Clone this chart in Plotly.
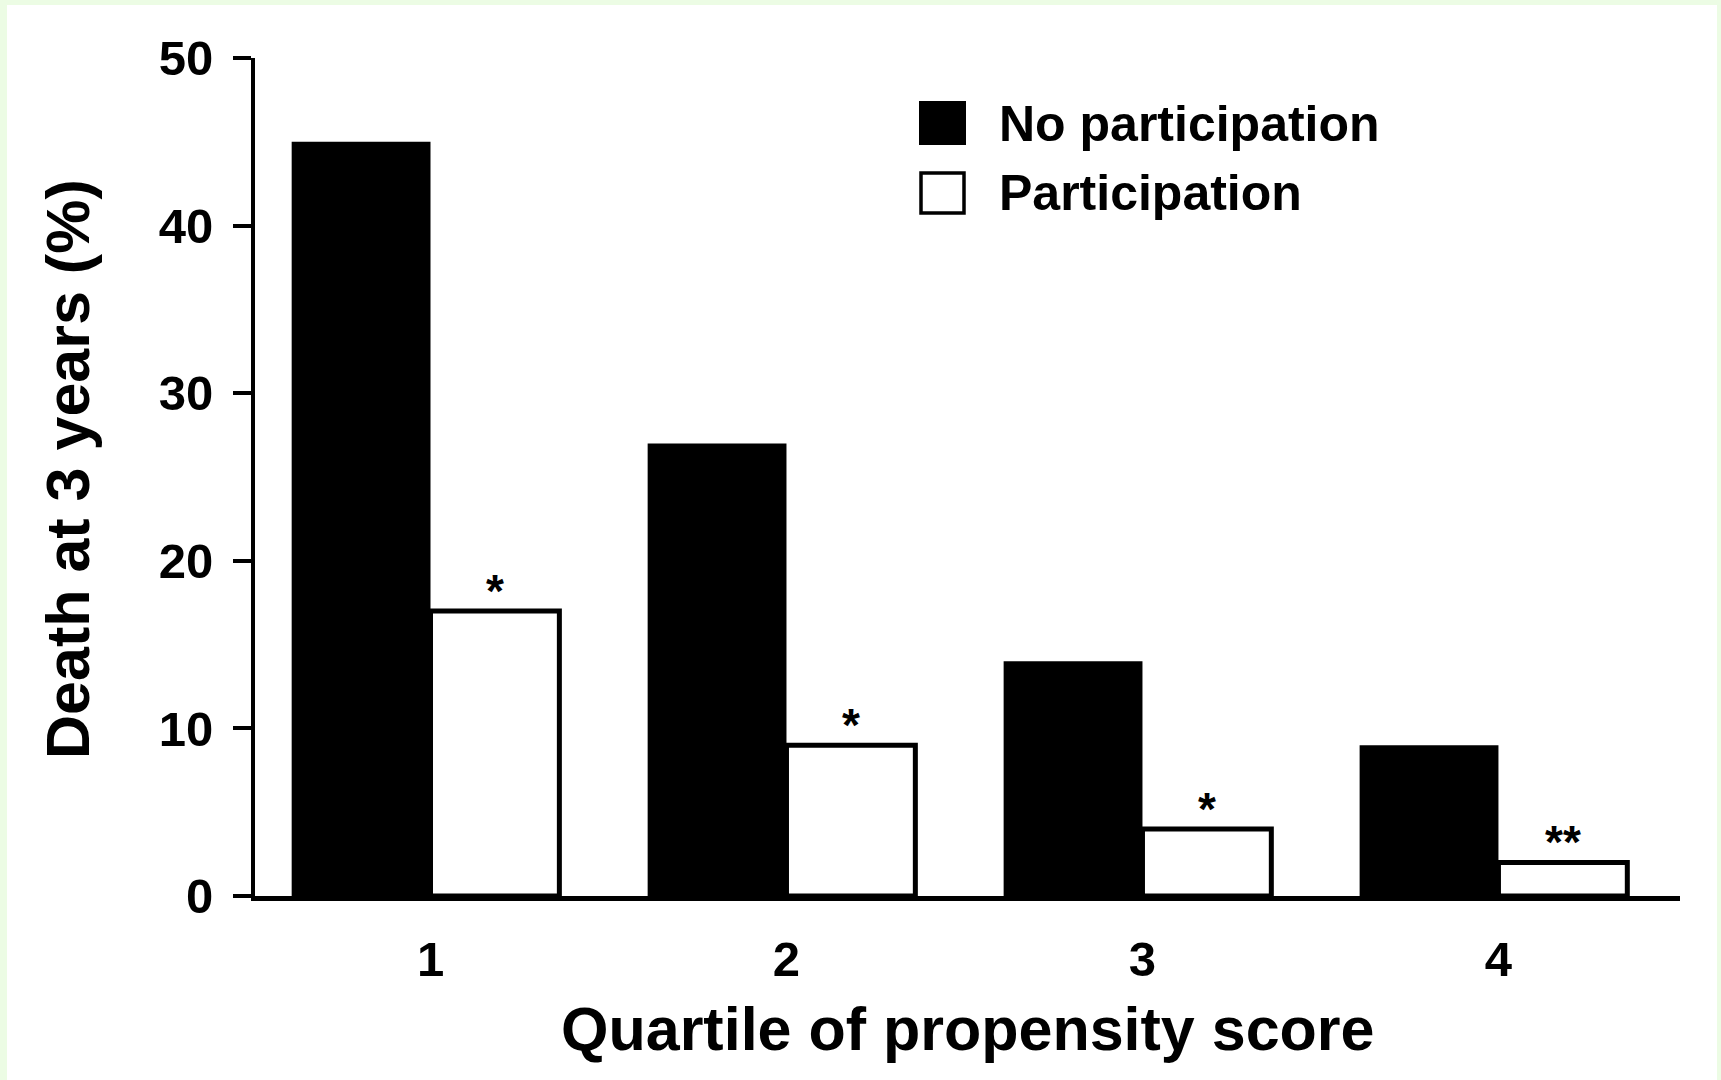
import plotly.graph_objects as go

# Data: 3-year mortality by propensity-score quartile
quartiles = ["1", "2", "3", "4"]
series_names = ["No participation", "Participation"]
no_participation = [45, 27, 14, 9]
participation = [17, 9, 4, 2]
significance = ["*", "*", "*", "**"]
y_ticks = [0, 10, 20, 30, 40, 50]

W, H = 1721, 1080
L, R, T, B = 255, 41, 58, 184
PW, PH = W - L - R, H - T - B

FONT = "Liberation Sans, Arial, Helvetica, sans-serif"


def px_x(px):
    return (px - L) / PW


def px_y(py):
    return (H - B - py) / PH


xs = list(range(len(quartiles)))
BLACK_W = 0.39
WHITE_W = 0.362

fig = go.Figure()
fig.add_trace(go.Bar(
    x=xs, y=no_participation, name=series_names[0],
    offset=-BLACK_W, width=BLACK_W,
    marker=dict(color="black", line=dict(width=0)),
    showlegend=False,
))
fig.add_trace(go.Bar(
    x=xs, y=participation, name=series_names[1],
    offset=0, width=WHITE_W,
    marker=dict(color="white", line=dict(color="black", width=5)),
    showlegend=False,
))

annotations = []
# Significance markers above the participation bars
for i, (v, s) in enumerate(zip(participation, significance)):
    annotations.append(dict(
        x=i + WHITE_W / 2, y=v, xref="x", yref="y", text=s, showarrow=False,
        yanchor="bottom", yshift=-8,
        font=dict(family=FONT, size=46, color="black", weight=700),
    ))

# Axis titles
annotations.append(dict(
    x=px_x(68), y=px_y(469), xref="paper", yref="paper",
    text="Death at 3 years (%)", textangle=-90, showarrow=False,
    xanchor="center", yanchor="middle",
    font=dict(family=FONT, size=61, color="black", weight=700),
))
annotations.append(dict(
    x=px_x(968), y=px_y(1029), xref="paper", yref="paper",
    text="Quartile of propensity score", showarrow=False,
    xanchor="center", yanchor="middle",
    font=dict(family=FONT, size=61, color="black", weight=700),
))

# Legend drawn as swatches and labels
shapes = [
    dict(type="rect", xref="paper", yref="paper",
         x0=px_x(7), x1=px_x(1717), y0=px_y(5), y1=px_y(1085),
         fillcolor="white", line=dict(width=0), layer="below"),
    dict(type="rect", xref="paper", yref="paper",
         x0=px_x(920), x1=px_x(965), y0=px_y(102), y1=px_y(144),
         fillcolor="black", line=dict(color="black", width=2)),
    dict(type="rect", xref="paper", yref="paper",
         x0=px_x(921), x1=px_x(964), y0=px_y(173), y1=px_y(213),
         fillcolor="white", line=dict(color="black", width=3.5)),
]
for name, cy in zip(series_names, [124, 193]):
    annotations.append(dict(
        x=px_x(997), y=px_y(cy), xref="paper", yref="paper",
        text=name, showarrow=False, xanchor="left", yanchor="middle",
        font=dict(family=FONT, size=50, color="black", weight=700),
    ))

fig.update_layout(
    width=W, height=H,
    margin=dict(l=L, r=R, t=T, b=B, pad=0),
    paper_bgcolor="#ecfce4",
    plot_bgcolor="rgba(0,0,0,0)",
    barmode="overlay",
    showlegend=False,
    annotations=annotations,
    shapes=shapes,
    font=dict(family=FONT, color="black"),
)
fig.update_xaxes(
    range=[-0.493, 3.51], tickvals=xs, ticktext=quartiles,
    showline=True, linecolor="black", linewidth=5,
    ticks="", showgrid=False, zeroline=False,
    ticklabelstandoff=16,
    tickfont=dict(family=FONT, size=49, color="black", weight=700),
)
fig.update_yaxes(
    range=[0, 50], tickvals=y_ticks,
    showline=True, linecolor="black", linewidth=4,
    ticks="outside", ticklen=18, tickwidth=4, tickcolor="black",
    showgrid=False, zeroline=False,
    ticklabelstandoff=10,
    tickfont=dict(family=FONT, size=49, color="black", weight=700),
)

fig.write_html("out.html")
